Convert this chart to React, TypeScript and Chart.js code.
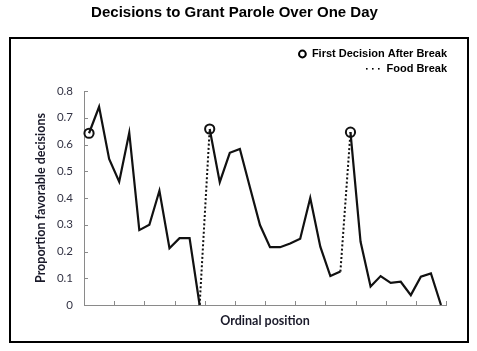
import React, { useEffect, useRef } from "react";
import { Chart, registerables } from "chart.js";

Chart.register(...registerables);

// ---- Data ----
const ordinalPositions: string[] = Array.from({ length: 36 }, (_, i) => String(i + 1));
const proportionFavorable: number[] = [
  0.642, 0.741, 0.546, 0.461, 0.644, 0.28, 0.3, 0.427, 0.212, 0.25, 0.25, 0,
  0.658, 0.459, 0.569, 0.583, 0.44, 0.299, 0.216, 0.216, 0.23, 0.248, 0.4, 0.218, 0.108, 0.125,
  0.646, 0.237, 0.069, 0.108, 0.083, 0.087, 0.037, 0.106, 0.118, 0,
];
const firstAfterBreak: number[] = [0, 12, 26];
const yTickLabels: string[] = ["0", "0.1", "0.2", "0.3", "0.4", "0.5", "0.6", "0.7", "0.8"];
const chartTitle = "Decisions to Grant Parole Over One Day";
const yTitle = "Proportion favorable decisions";
const xTitle = "Ordinal position";
const legendCircleLabel = "First Decision After Break";
const legendBreakLabel = "Food Break";

const AXIS_GRAY = "#8a8a8a";
const CAL = "Lato, 'Open Sans', sans-serif";

const decorPlugin = {
  id: "decor",
  beforeDraw(chart: any) {
    const ctx = chart.ctx;
    ctx.save();
    ctx.fillStyle = "#ffffff";
    ctx.fillRect(0, 0, chart.width, chart.height);
    ctx.restore();
  },
  afterDraw(chart: any) {
    const ctx = chart.ctx;
    const xs = chart.scales.x;
    const ys = chart.scales.y;
    const area = chart.chartArea;
    ctx.save();
    // outer frame
    ctx.strokeStyle = "#000";
    ctx.lineWidth = 2;
    ctx.strokeRect(10, 38, 458, 304);
    // inner tick marks
    ctx.strokeStyle = AXIS_GRAY;
    ctx.lineWidth = 1;
    ctx.beginPath();
    yTickLabels.forEach((_, i) => {
      const y = Math.round(ys.getPixelForValue(i / 10)) + 0.5;
      ctx.moveTo(area.left, y);
      ctx.lineTo(area.left + 4, y);
    });
    for (let k = 1; k <= 12; k++) {
      const x = Math.round(xs.getPixelForDecimal(k / 12)) + 0.5;
      ctx.moveTo(x, area.bottom);
      ctx.lineTo(x, area.bottom - 4);
    }
    ctx.stroke();
    // legend
    const right = area.right + 1;
    ctx.font = "bold 11px 'Liberation Sans', Arial, sans-serif";
    ctx.fillStyle = "#000";
    ctx.textAlign = "right";
    ctx.textBaseline = "middle";
    ctx.fillText(legendCircleLabel, right, 54);
    ctx.fillText(legendBreakLabel, right, 68.5);
    const w1 = ctx.measureText(legendCircleLabel).width;
    const w2 = ctx.measureText(legendBreakLabel).width;
    ctx.strokeStyle = "#000";
    ctx.lineWidth = 2;
    ctx.beginPath();
    ctx.arc(right - w1 - 9.5, 54, 3.4, 0, Math.PI * 2);
    ctx.stroke();
    for (let d = 0; d < 3; d++) {
      ctx.fillRect(right - w2 - 20.5 + d * 6, 68, 1.6, 1.6);
    }
    ctx.restore();
  },
};

export default function App() {
  const ref = useRef<HTMLCanvasElement | null>(null);
  useEffect(() => {
    if (!ref.current) return;
    const chart = new Chart(ref.current, {
      type: "line",
      data: {
        labels: ordinalPositions,
        datasets: [
          {
            label: legendCircleLabel,
            data: ordinalPositions.map((_, i) =>
              firstAfterBreak.includes(i) ? proportionFavorable[i] : null
            ),
            showLine: false,
            pointRadius: 4.6,
            pointBorderWidth: 2,
            pointBorderColor: "#111",
            pointBackgroundColor: "rgba(0,0,0,0)",
            clip: false,
          } as any,
          {
            label: "Proportion",
            data: proportionFavorable,
            borderColor: "#111",
            borderWidth: 2.2,
            pointRadius: 0,
            tension: 0,
            fill: false,
            clip: false,
            borderJoinStyle: "miter",
            segment: {
              borderDash: (c: any) =>
                firstAfterBreak.includes(c.p1DataIndex) && c.p1DataIndex > 0 ? [2, 2.2] : undefined,
              borderWidth: (c: any) =>
                firstAfterBreak.includes(c.p1DataIndex) && c.p1DataIndex > 0 ? 2 : undefined,
            },
          } as any,
        ],
      },
      options: {
        responsive: false,
        animation: false,
        devicePixelRatio: 1,
        layout: { padding: { left: 23, right: 31, top: 0, bottom: 0 } },
        plugins: {
          legend: { display: false },
          tooltip: { enabled: false },
          title: {
            display: true,
            text: chartTitle,
            color: "#000",
            font: { family: "'Liberation Sans', Arial, sans-serif", size: 15, weight: "bold" },
            padding: { top: 4, bottom: 69 },
          },
        },
        scales: {
          x: {
            type: "category",
            offset: true,
            grid: { display: false, drawTicks: false },
            border: { display: true, color: AXIS_GRAY, width: 1 },
            ticks: { display: false },
            title: {
              display: true,
              text: xTitle,
              color: "#1a1a2a",
              font: { family: CAL, size: 12.5, weight: "bold" },
              padding: { top: 0, bottom: 22.5 },
            },
            afterFit: (s: any) => {
              s.height = 46;
            },
          },
          y: {
            min: 0,
            max: 0.8,
            grid: { display: false, drawTicks: false },
            border: { display: true, color: AXIS_GRAY, width: 1 },
            ticks: {
              stepSize: 0.1,
              padding: 11,
              color: "#333344",
              font: { family: CAL, size: 11.5 },
              callback: (_v: any, i: number) => yTickLabels[i],
            },
            title: {
              display: true,
              text: yTitle,
              color: "#1a1a2a",
              font: { family: CAL, size: 12.5, weight: "bold" },
              padding: { top: 10, bottom: 0 },
            },
            afterFit: (s: any) => {
              s.width = 61;
            },
          },
        },
      },
      plugins: [decorPlugin],
    });
    return () => chart.destroy();
  }, []);
  return (
    <div style={{ position: "absolute", left: 0, top: 0, width: 477, height: 351 }}>
      <canvas ref={ref} width={477} height={351} style={{ display: "block" }} />
    </div>
  );
}
